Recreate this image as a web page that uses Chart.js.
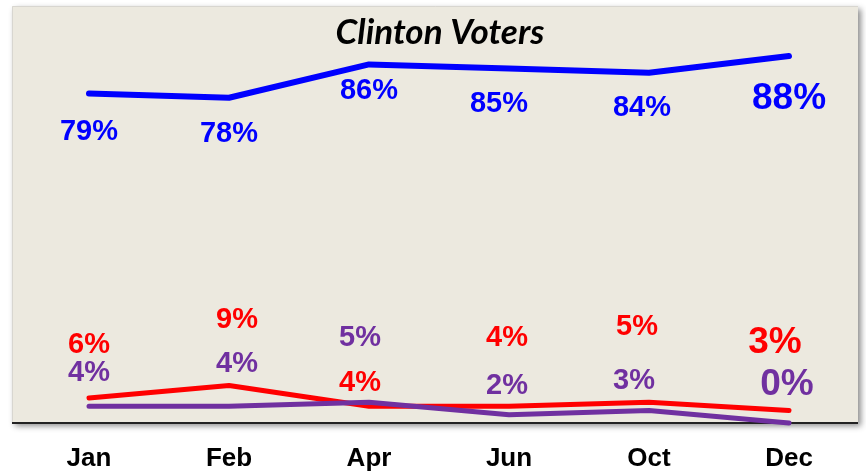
<!DOCTYPE html>
<html>
<head>
<meta charset="utf-8">
<script src="https://cdn.jsdelivr.net/npm/chart.js@4.4.0/dist/chart.umd.min.js"></script>
<style>
  html, body { margin: 0; padding: 0; background: #fff; }
  #wrap { width: 866px; height: 472px; }
</style>
</head>
<body>
<div id="wrap"><canvas id="chart" width="866" height="472"></canvas></div>
<script>
const months = ["Jan", "Feb", "Apr", "Jun", "Oct", "Dec"];
const clintonVals = [79, 78, 86, 85, 84, 88];
const trumpVals = [6, 9, 4, 4, 5, 3];
const otherVals = [4, 4, 5, 2, 3, 0];
const chartTitle = "Clinton Voters";

// label offsets from each point (dx, dy)
const labelPos = {
    blue:   { dx: [0, 0, 0, -10, -7, 0], dy: [38, 36, 27, 35, 35, 43] },
    red:    { dx: [0, 8, -9, -2, -12, -14], dy: [-53, -65, -23, -68, -75, -68] },
    purple: { dx: [0, 8, -9, -2, -15, -2], dy: [-33, -42, -64, -29, -29, -38] }
};

const panelPlugin = {
    id: "panel",
    beforeDraw(chart) {
        const ctx = chart.ctx;
        const a = chart.chartArea;
        const l = a.left - 7, r = a.right - 1, t = a.top, b = a.bottom;
        ctx.save();
        ctx.shadowColor = "rgba(0,0,0,0.45)";
        ctx.shadowBlur = 6;
        ctx.shadowOffsetX = 3;
        ctx.shadowOffsetY = 3;
        ctx.fillStyle = "#ECE9DF";
        ctx.fillRect(l, t, r - l, b - t);
        ctx.restore();
        ctx.save();
        ctx.strokeStyle = "#d8d6d0";
        ctx.lineWidth = 1;
        ctx.beginPath();
        ctx.moveTo(l + 0.5, b);
        ctx.lineTo(l + 0.5, t + 0.5);
        ctx.lineTo(r, t + 0.5);
        ctx.stroke();
        ctx.strokeStyle = "#222";
        ctx.lineWidth = 2;
        ctx.beginPath();
        ctx.moveTo(l, b);
        ctx.lineTo(r, b);
        ctx.stroke();
        // title inside the panel
        ctx.fillStyle = "#000";
        ctx.textAlign = "center";
        ctx.textBaseline = "middle";
        ctx.font = "italic bold 35px Lato, 'Open Sans', sans-serif";
        ctx.fillText(chartTitle, 440, 33);
        ctx.restore();
    }
};

const labelPlugin = {
    id: "pointLabels",
    afterDatasetsDraw(chart) {
        const ctx = chart.ctx;
        ctx.save();
        ctx.textAlign = "center";
        ctx.textBaseline = "middle";
        chart.data.datasets.forEach((ds, di) => {
            const meta = chart.getDatasetMeta(di);
            const pos = labelPos[ds.key];
            meta.data.forEach((pt, i) => {
                const big = i === ds.data.length - 1;
                ctx.font = "bold " + (big ? 37 : 29) + "px 'Liberation Sans', Arial, sans-serif";
                ctx.fillStyle = ds.borderColor;
                ctx.fillText(ds.data[i] + "%", pt.x + pos.dx[i], pt.y + pos.dy[i]);
            });
        });
        ctx.restore();
    }
};

new Chart(document.getElementById("chart"), {
    type: "line",
    data: {
        labels: months,
        datasets: [
            { key: "blue", label: "Clinton", data: clintonVals, borderColor: "#0000FF", borderWidth: 6 },
            { key: "purple", label: "Other", data: otherVals, borderColor: "#7030A0", borderWidth: 5 },
            { key: "red", label: "Trump", data: trumpVals, borderColor: "#FF0000", borderWidth: 5 }
        ]
    },
    options: {
        responsive: false,
        animation: false,
        clip: false,
        layout: { padding: { left: 19, right: 7, top: 6, bottom: 0 } },
        elements: {
            point: { radius: 0 },
            line: { tension: 0, borderCapStyle: "round", borderJoinStyle: "round" }
        },
        plugins: {
            legend: { display: false },
            tooltip: { enabled: false },
            title: { display: false }
        },
        scales: {
            x: {
                offset: true,
                grid: { display: false, drawTicks: false },
                border: { display: false },
                afterFit(scale) { scale.height = 49; },
                ticks: {
                    color: "#000",
                    padding: 20,
                    maxRotation: 0,
                    font: { family: "'Liberation Sans', Arial, sans-serif", size: 26, weight: "bold" }
                }
            },
            y: {
                min: 0,
                max: 100,
                display: false
            }
        }
    },
    plugins: [panelPlugin, labelPlugin]
});
</script>
</body>
</html>
